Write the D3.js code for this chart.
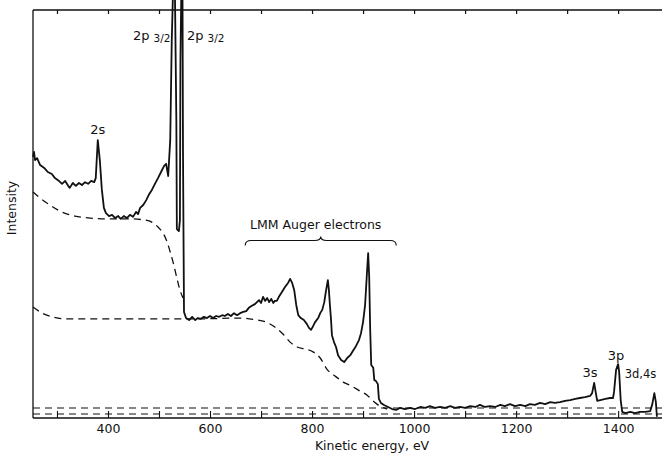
<!DOCTYPE html>
<html>
<head>
<meta charset="utf-8">
<script src="https://cdn.jsdelivr.net/npm/d3@7/dist/d3.min.js"></script>
<style>
  html, body { margin: 0; padding: 0; background: #fff; }
  svg { display: block; }
  text { font-family: "DejaVu Sans", "Liberation Sans", sans-serif; fill: #111; }
</style>
</head>
<body>
<svg id="chart" width="662" height="455"></svg>
<script>
// Photoelectron spectrum: kinetic energy (eV) vs intensity (arbitrary units)
const spectrumE = [253,255,257,261,267,275,282,290,296,302,310,316,322,325,331,337,343,349,355,361,367,373,376,
  380,384,388,392,396,402,408,414,420,425,431,437,443,449,455,459,463,469,475,480,486,492,498,504,510,514,518,
  522,525,528,531,534,535,539,541,542,544,546,547,549,553,559,565,571,576,582,588,594,600,606,612,618,624,629,
  635,641,647,653,659,665,671,676,682,688,692,696,700,704,708,712,716,720,724,727,731,735,741,747,753,757,761,
  765,769,773,778,784,790,794,798,802,806,812,816,820,824,827,831,833,835,837,839,843,847,851,857,863,869,875,
  880,886,892,896,900,904,908,910,912,914,916,920,922,925,929,931,935,941,949,957,965,973,982,992,1002,1012,1022,
  1031,1041,1051,1061,1071,1080,1090,1100,1110,1120,1129,1139,1149,1159,1169,1178,1188,1198,1208,1218,1227,1237,
  1247,1257,1267,1276,1286,1296,1306,1316,1325,1335,1345,1349,1353,1357,1359,1365,1375,1384,1390,1392,1396,1400,
  1402,1405,1408,1414,1424,1433,1443,1453,1463,1467,1471,1474,1476];
const spectrumI = [64.0,65.2,63.2,63.7,62.0,61.3,60.3,59.8,58.8,58.3,57.4,58.1,56.9,56.4,57.6,56.9,57.6,57.1,57.8,57.4,58.1,57.8,58.8,
  68.1,63.2,55.9,51.5,50.2,49.5,49.8,49.0,49.5,48.8,49.5,49.0,49.8,49.3,50.5,50.0,51.5,52.2,53.4,54.7,55.9,57.4,58.8,60.3,61.8,62.3,59.3,
  68.1,92.6,107,107,73,46.3,45.8,48.5,87.7,107,107,65.7,26.0,24.5,24.0,24.8,24.0,24.5,24.3,24.8,24.5,25.0,24.5,25.0,24.8,25.2,25.0,
  25.5,25.0,25.7,25.2,25.7,26.0,26.2,27.0,27.5,27.9,28.4,28.9,28.2,29.7,28.7,29.4,28.4,29.2,28.2,28.7,28.7,29.7,30.9,32.1,33.1,34.1,33.1,
  31.4,27.7,25.2,24.5,24.0,23.0,22.1,21.6,22.5,23.5,24.5,25.7,26.5,28.4,30.9,33.8,31.4,27.7,24.5,20.3,18.6,17.4,15.4,14.2,13.7,14.7,15.4,
  16.4,17.6,19.1,20.8,23.5,27.7,36.3,40.4,34.8,21.6,13.0,12.3,9.3,9.1,8.3,4.7,3.7,3.2,2.7,2.2,2.0,2.5,2.2,2.5,2.2,2.7,2.5,
  2.9,2.5,2.7,2.5,2.9,2.5,2.7,2.5,2.9,2.7,3.2,2.7,2.9,2.7,3.2,2.9,3.4,2.9,3.2,2.9,3.4,3.2,
  3.7,3.4,3.9,3.7,3.9,4.2,4.4,4.7,4.9,5.1,5.4,6.1,8.6,5.6,4.2,4.4,4.7,4.9,4.9,6.4,11.8,13.2,
  11.3,4.4,1.5,1.2,1.5,1.2,1.5,1.5,1.7,3.4,6.1,3.9,0.3];

// Inelastic backgrounds (dashed)
const background1E = [253,267,286,306,335,365,404,443,473,486,498,508,516,522,529,535,541,547];
const background1I = [55.4,53.9,52.2,50.7,49.5,49.0,48.8,48.8,48.5,48.0,46.8,45.3,43.1,40.7,37.5,34.3,31.4,29.4];
const background2E = [253,271,290,316,384,482,580,659,688,708,727,743,757,771,786,802,816,829,845,861,878,894,908,922,933,947];
const background2I = [27.2,25.7,24.8,24.3,24.3,24.3,24.3,24.5,24.1,23.6,22.3,20.6,18.6,17.4,16.9,16.2,14.7,12.0,10.3,8.8,7.8,6.6,5.6,3.9,2.9,2.2];

// Flat dashed reference levels near the baseline
const baselineLevels = [2.45, 0.98];

const tickValues = [300,400,500,600,700,800,900,1000,1100,1200,1300,1400];
const tickLabels = [400,600,800,1000,1200,1400];

// Peak annotations: [text, subscript, energy, intensity, anchor]
const peakLabels = [
  ["2s", "", 380, 69.6, "middle"],
  ["2p", "3/2", 449, 92.6, "start"],
  ["2p", "3/2", 555, 92.6, "start"],
  ["3s", "", 1345, 10.0, "middle"],
  ["3p", "", 1396, 14.2, "middle"],
  ["3d,4s", "", 1413, 9.8, "start"]
];
const augerLabel = "LMM Auger electrons";
const augerRange = [669, 965];
const augerLevel = 43.5;

const W = 662, H = 455;
const x = d3.scaleLinear().domain([253, 1486]).range([33, 662]);
const y = d3.scaleLinear().domain([0, 100]).range([418, 10]);

const svg = d3.select("#chart");
svg.append("rect").attr("width", W).attr("height", H).attr("fill", "#fff");

// Frame: left, top and bottom
const frame = svg.append("g").attr("stroke", "#111").attr("stroke-width", 1.3).attr("fill", "none");
frame.append("line").attr("x1", x(253)).attr("x2", x(253)).attr("y1", y(100)).attr("y2", y(0));
frame.append("line").attr("x1", x(253)).attr("x2", W).attr("y1", y(100)).attr("y2", y(100));
frame.append("line").attr("x1", x(253)).attr("x2", W).attr("y1", y(0)).attr("y2", y(0));

// Axes built from D3 axis generators
const topAxis = d3.axisBottom(x).tickValues(tickValues).tickSize(4).tickFormat("");
svg.append("g").attr("transform", `translate(0,${y(100)})`).call(topAxis)
  .call(g => g.select(".domain").remove())
  .call(g => g.selectAll(".tick line").attr("stroke", "#111").attr("stroke-width", 1.2));

const bottomAxis = d3.axisTop(x).tickValues(tickValues).tickSize(7).tickFormat("");
svg.append("g").attr("transform", `translate(0,${y(0)})`).call(bottomAxis)
  .call(g => g.select(".domain").remove())
  .call(g => g.selectAll(".tick line").attr("stroke", "#111").attr("stroke-width", 1.1));

const labelAxis = d3.axisBottom(x).tickValues(tickLabels).tickSize(0).tickPadding(6).tickFormat(d3.format("d"));
svg.append("g").attr("transform", `translate(0,${y(0)})`).call(labelAxis)
  .call(g => g.select(".domain").remove())
  .call(g => g.selectAll("text").attr("font-size", 12.5)
    .attr("font-family", "'DejaVu Sans', sans-serif").attr("fill", "#111"));

// Baseline dashed levels
svg.append("g").selectAll("line").data(baselineLevels).join("line")
  .attr("x1", x(253)).attr("x2", W)
  .attr("y1", d => y(d)).attr("y2", d => y(d))
  .attr("stroke", "#111").attr("stroke-width", 1.2).attr("stroke-dasharray", "7,5");

// Dashed backgrounds
const smooth = d3.line().x(d => x(d[0])).y(d => y(d[1])).curve(d3.curveMonotoneX);
[[background1E, background1I], [background2E, background2I]].forEach(([e, v]) => {
  svg.append("path").datum(e.map((d, i) => [d, v[i]]))
    .attr("d", smooth).attr("fill", "none")
    .attr("stroke", "#111").attr("stroke-width", 1.3).attr("stroke-dasharray", "7,5");
});

// Spectrum
const line = d3.line().x(d => x(d[0])).y(d => y(d[1]));
svg.append("path").datum(spectrumE.map((d, i) => [d, spectrumI[i]]))
  .attr("d", line).attr("fill", "none")
  .attr("stroke", "#111").attr("stroke-width", 1.8).attr("stroke-linejoin", "round");

// Peak labels; a label near the right edge gets a smaller font until it fits
peakLabels.forEach(([t, sub, e, v, anchor]) => {
  const px = x(e);
  const txt = svg.append("text").attr("x", px).attr("y", y(v))
    .attr("font-size", 13).attr("text-anchor", anchor);
  txt.append("tspan").text(t);
  if (sub) txt.append("tspan").attr("dx", 4).attr("dy", 2).attr("font-size", 10.5).text(sub);
  if (anchor === "start") {
    let fs = 13;
    while (fs > 8 && px + txt.node().getBBox().width > W - 5) {
      fs -= 0.5;
      txt.attr("font-size", fs);
    }
  }
});

// Auger region: label and curly brace
const bx0 = x(augerRange[0]), bx1 = x(augerRange[1]), bm = (bx0 + bx1) / 2, by = y(augerLevel);
svg.append("text").attr("x", bm - 5).attr("y", by - 12).attr("text-anchor", "middle")
  .attr("font-size", 12.5).text(augerLabel);
svg.append("path")
  .attr("d", `M${bx0},${by + 5} Q${bx0},${by} ${bx0 + 6},${by} L${bm - 6},${by} Q${bm},${by} ${bm},${by - 4}
              Q${bm},${by} ${bm + 6},${by} L${bx1 - 6},${by} Q${bx1},${by} ${bx1},${by + 5}`)
  .attr("fill", "none").attr("stroke", "#111").attr("stroke-width", 1.1);

// Axis titles
svg.append("text").attr("x", 372).attr("y", 450).attr("text-anchor", "middle")
  .attr("font-size", 12.5).text("Kinetic energy, eV");
svg.append("text").attr("transform", "translate(16,208) rotate(-90)").attr("text-anchor", "middle")
  .attr("font-size", 12.5).text("Intensity");
</script>
</body>
</html>
